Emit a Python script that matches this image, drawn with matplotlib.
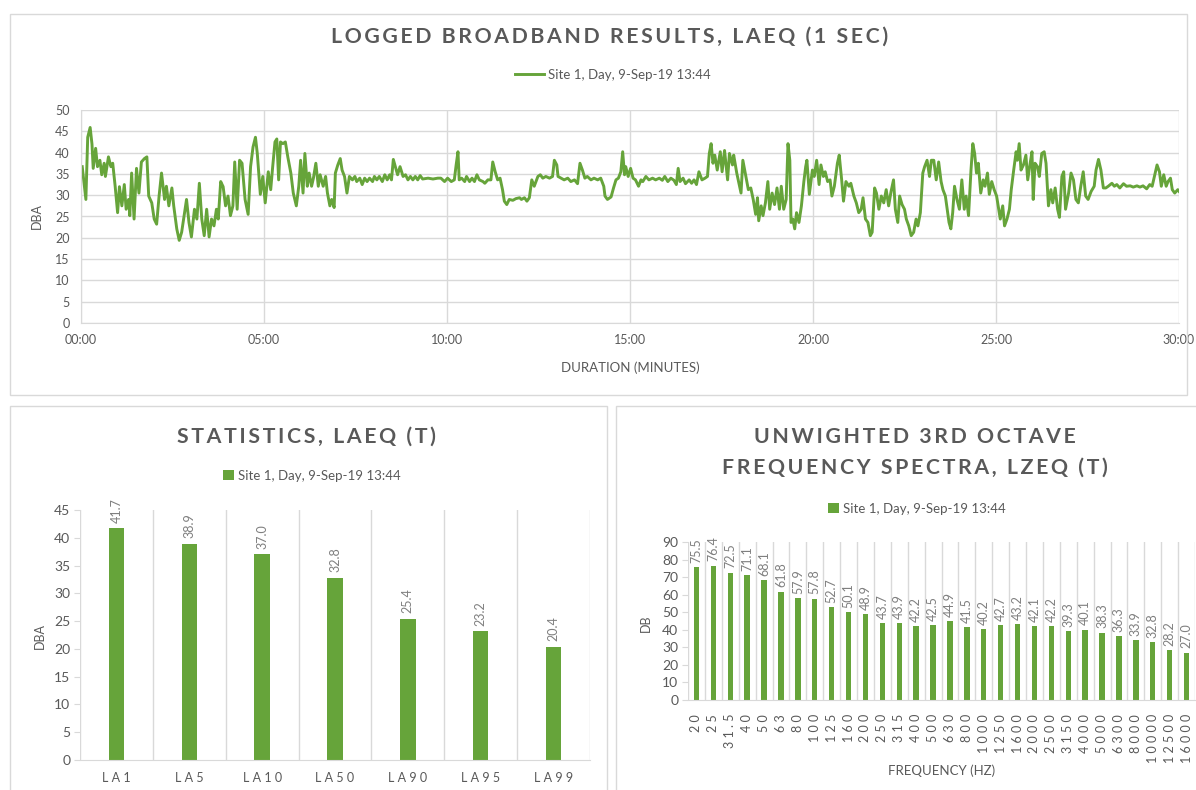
import numpy as np
import matplotlib
matplotlib.use("Agg")
import matplotlib.pyplot as plt
from matplotlib.patches import Rectangle
from matplotlib.ticker import FuncFormatter

# ---- data ----
legend_name = "Site 1, Day, 9-Sep-19 13:44"

# logged LAeq (1 sec), time in seconds, read in 5-minute pieces
t_00_05 = [2, 8, 11, 15, 18, 20, 24, 27, 31, 34, 38, 40, 45, 49, 52, 56, 60, 63, 67, 71, 74, 78, 80, 83, 87,
           91, 95, 99, 104, 108, 111, 116, 120, 124, 128, 132, 137, 140, 144, 149, 152, 157, 161, 165, 169,
           173, 177, 181, 186, 190, 194, 198, 202, 206, 210, 214, 218, 222, 225, 229, 233, 237, 241, 245,
           249, 252, 256, 260, 264, 269, 274, 278, 282, 286, 289]
db_00_05 = [36.7, 29.0, 43.6, 45.9, 42.0, 36.3, 41.0, 36.7, 38.2, 34.8, 37.5, 34.4, 39.0, 36.7, 37.5, 32.1,
            25.9, 32.0, 27.5, 32.5, 26.7, 29.0, 25.2, 35.2, 24.4, 36.3, 30.5, 37.8, 38.6, 39.0, 29.8, 28.2,
            24.4, 23.2, 29.8, 35.2, 29.0, 32.1, 27.5, 31.7, 27.5, 22.1, 19.4, 21.3, 25.2, 29.0, 23.6, 20.2,
            26.7, 24.4, 32.8, 24.4, 20.5, 26.7, 20.2, 24.4, 22.8, 26.7, 24.4, 33.2, 32.0, 27.5, 29.8, 25.2,
            27.5, 37.8, 26.7, 38.2, 37.5, 29.0, 25.5, 36.7, 41.3, 43.6, 39.8]

t_05_10 = [294, 298, 302, 307, 311, 314, 318, 321, 324, 327, 331, 335, 339, 344, 348, 353, 357, 360, 364,
           367, 371, 374, 378, 381, 385, 389, 392, 397, 401, 404, 408, 411, 415, 417, 421, 425, 428, 432,
           436, 440, 445, 449, 452, 457, 461, 465, 469, 473, 478, 481, 485, 489, 494, 498, 502, 506, 509,
           512, 516, 519, 523, 528, 532, 536, 540, 544, 548, 552, 556, 560, 569, 577, 585]
db_05_10 = [30.2, 34.4, 28.2, 35.5, 31.3, 36.3, 42.5, 43.2, 33.6, 42.5, 42.1, 42.5, 39.0, 35.2, 30.5, 27.5,
            32.1, 38.2, 30.5, 39.8, 32.1, 35.2, 32.1, 34.0, 37.5, 32.1, 34.8, 32.1, 34.4, 30.5, 27.5, 29.0,
            27.1, 35.2, 37.1, 38.6, 35.9, 34.4, 30.5, 34.4, 33.6, 34.4, 33.2, 34.0, 32.5, 34.0, 33.2, 34.0,
            33.2, 34.4, 33.6, 34.4, 33.2, 34.8, 33.6, 34.8, 33.6, 38.4, 36.3, 34.8, 36.7, 34.4, 34.8, 33.6,
            34.4, 33.6, 34.4, 33.6, 34.6, 33.8, 34.0, 33.8, 34.0]

t_10_15 = [590, 596, 601, 607, 612, 615, 618, 620, 624, 629, 632, 637, 641, 645, 649, 653, 659, 662, 667,
           672, 675, 679, 683, 687, 691, 694, 698, 702, 708, 713, 719, 722, 727, 731, 735, 739, 743, 749,
           753, 757, 762, 768, 773, 776, 780, 782, 787, 792, 798, 803, 809, 814, 818, 822, 826, 830, 836,
           841, 847, 852, 857, 859, 863, 869, 873, 877, 881, 885, 888, 891]
db_10_15 = [34.0, 33.2, 34.0, 33.2, 33.6, 37.1, 40.2, 33.6, 34.0, 33.2, 34.4, 33.2, 34.0, 33.2, 34.8, 33.6,
            33.2, 32.8, 33.6, 33.6, 37.8, 35.5, 33.6, 34.0, 31.3, 28.6, 27.8, 29.0, 28.8, 29.2, 29.4, 29.0,
            29.4, 28.6, 29.4, 33.6, 32.1, 34.4, 34.8, 34.0, 34.4, 34.0, 34.4, 38.2, 37.1, 34.4, 34.0, 33.6,
            34.0, 33.2, 33.6, 32.7, 37.5, 35.9, 34.0, 34.4, 33.6, 34.0, 33.6, 34.0, 32.1, 29.8, 29.0, 29.6,
            31.7, 33.6, 34.0, 35.5, 40.2, 34.8]

t_15_20 = [893, 897, 901, 905, 909, 914, 918, 921, 926, 931, 937, 942, 948, 953, 957, 962, 967, 972, 976,
           979, 982, 987, 991, 997, 1001, 1005, 1009, 1013, 1018, 1023, 1027, 1030, 1033, 1036, 1039, 1043,
           1048, 1051, 1055, 1060, 1063, 1068, 1070, 1075, 1079, 1082, 1085, 1090, 1094, 1098, 1102, 1106,
           1109, 1111, 1115, 1118, 1122, 1126, 1129, 1133, 1137, 1141, 1145, 1148, 1152, 1156, 1159, 1162,
           1164, 1167, 1170, 1173, 1177, 1181, 1185, 1188, 1190, 1194]
db_15_20 = [36.7, 34.4, 36.3, 34.0, 33.6, 32.1, 33.6, 33.2, 34.4, 33.6, 34.0, 33.6, 34.0, 33.5, 34.4, 33.2,
            34.0, 33.5, 32.5, 36.3, 33.2, 34.0, 32.7, 33.6, 32.8, 33.6, 32.5, 35.5, 33.6, 34.0, 34.4, 39.8,
            42.1, 37.5, 39.4, 35.9, 40.2, 35.5, 40.5, 33.6, 39.8, 37.1, 39.4, 35.2, 32.5, 30.5, 38.2, 34.4,
            31.3, 31.7, 29.0, 25.5, 29.4, 24.0, 27.5, 25.2, 28.2, 33.2, 26.7, 30.5, 27.8, 31.7, 26.7, 32.1,
            26.7, 29.0, 42.1, 38.2, 23.6, 24.4, 22.1, 25.9, 23.6, 27.5, 33.2, 36.7, 38.2, 30.2]

t_20_25 = [1199, 1202, 1206, 1210, 1213, 1217, 1220, 1224, 1228, 1231, 1235, 1240, 1243, 1247, 1250, 1254,
           1259, 1262, 1267, 1271, 1275, 1279, 1282, 1286, 1290, 1294, 1297, 1301, 1304, 1308, 1312, 1316,
           1320, 1324, 1328, 1332, 1335, 1339, 1342, 1346, 1350, 1353, 1357, 1361, 1365, 1369, 1372, 1376,
           1380, 1383, 1387, 1391, 1394, 1398, 1402, 1406, 1410, 1413, 1417, 1420, 1423, 1426, 1429, 1432,
           1436, 1440, 1444, 1448, 1451, 1455, 1459, 1462, 1465, 1468, 1471, 1475, 1479, 1482, 1486, 1489,
           1493, 1497]
db_20_25 = [35.9, 34.4, 38.2, 32.5, 37.1, 34.4, 35.5, 33.2, 33.6, 29.8, 32.1, 37.5, 39.4, 33.6, 28.6, 33.2,
            32.1, 32.8, 29.8, 28.2, 25.9, 26.7, 29.4, 24.4, 23.6, 20.5, 21.3, 31.7, 30.5, 26.7, 29.8, 28.2,
            31.3, 27.5, 30.9, 33.6, 26.7, 23.6, 29.8, 27.8, 26.7, 24.4, 22.8, 20.5, 21.3, 24.4, 22.8, 25.9,
            35.2, 36.7, 38.2, 34.4, 38.2, 38.2, 33.6, 37.8, 33.2, 31.3, 29.8, 26.7, 23.6, 22.1, 25.9, 32.1,
            29.0, 26.7, 33.6, 26.7, 29.8, 25.2, 35.9, 42.1, 39.8, 35.2, 37.5, 30.5, 33.6, 32.1, 35.2, 30.2,
            33.2, 31.3]

t_25_30 = [1501, 1507, 1511, 1514, 1518, 1522, 1525, 1529, 1533, 1535, 1538, 1541, 1545, 1549, 1552, 1556,
           1559, 1561, 1564, 1568, 1571, 1575, 1579, 1582, 1586, 1590, 1593, 1597, 1601, 1604, 1608, 1611,
           1614, 1619, 1623, 1627, 1631, 1635, 1639, 1643, 1647, 1651, 1656, 1661, 1664, 1668, 1672, 1676,
           1680, 1684, 1690, 1694, 1698, 1703, 1709, 1714, 1720, 1725, 1731, 1736, 1741, 1747, 1752, 1756,
           1761, 1764, 1768, 1771, 1775, 1779, 1782, 1786, 1789, 1793, 1798, 1800]
db_25_30 = [29.8, 24.4, 27.5, 22.8, 24.4, 26.7, 31.3, 35.9, 40.2, 38.2, 42.1, 35.9, 37.1, 39.4, 33.6, 37.5,
            40.2, 29.0, 37.5, 36.7, 34.4, 39.8, 40.2, 37.5, 27.5, 31.3, 28.2, 31.7, 26.7, 24.8, 34.4, 35.5,
            26.7, 30.5, 35.2, 33.6, 29.0, 28.2, 32.1, 35.5, 29.8, 29.0, 30.9, 32.1, 35.9, 38.4, 35.9, 31.7,
            31.7, 32.1, 32.8, 32.1, 32.5, 31.7, 32.7, 32.1, 32.2, 31.9, 32.2, 31.9, 32.2, 31.5, 32.5, 32.1,
            35.2, 37.1, 35.5, 32.1, 34.8, 32.1, 33.2, 34.0, 31.3, 30.5, 31.3, 30.9]

stats_labels = ["LA1", "LA5", "LA10", "LA50", "LA90", "LA95", "LA99"]
stats_values = [41.7, 38.9, 37.0, 32.8, 25.4, 23.2, 20.4]

freq_labels = ["20", "25", "31.5", "40", "50", "63", "80", "100", "125", "160", "200", "250", "315", "400",
               "500", "630", "800", "1000", "1250", "1600", "2000", "2500", "3150", "4000", "5000", "6300",
               "8000", "10000", "12500", "16000"]
spectrum = [75.5, 76.4, 72.5, 71.1, 68.1, 61.8, 57.9, 57.8, 52.7, 50.1, 48.9, 43.7, 43.9, 42.2, 42.5, 44.9,
            41.5, 40.2, 42.7, 43.2, 42.1, 42.2, 39.3, 40.1, 38.3, 36.3, 33.9, 32.8, 28.2, 27.0]

t_sec = t_00_05 + t_05_10 + t_10_15 + t_15_20 + t_20_25 + t_25_30
laeq = db_00_05 + db_05_10 + db_10_15 + db_15_20 + db_20_25 + db_25_30

# ---- style ----
W, H = 1196, 790
green = "#66A43A"
txt = "#595959"
grid = "#D9D9D9"
plt.rcParams["font.family"] = ["Lato", "DejaVu Sans"]


def box(l, t, r, b):
    return [l / W, 1 - b / H, (r - l) / W, (b - t) / H]


def spaced(s, gap="\u2009"):
    # letter spacing like the excel chart text
    return "  ".join(gap.join(w) for w in s.split(" "))


def title(x, y, s):
    fig.text(x / W, 1 - y / H, spaced(s, "\u2009"), ha="center", va="center",
             fontsize=15.3, fontweight="bold", color=txt)


fig = plt.figure(figsize=(W / 100, H / 100), dpi=100)
for (l, t, r, b) in [(10, 14, 1187, 395), (10, 406, 607, 800), (616, 406, 1205, 800)]:
    fig.patches.append(Rectangle((l / W, 1 - b / H), (r - l) / W, (b - t) / H, transform=fig.transFigure,
                                 fill=False, edgecolor=grid, lw=1.0))


def style_axes(ax):
    for s in ["top", "right"]:
        ax.spines[s].set_visible(False)
    for s in ["left", "bottom"]:
        ax.spines[s].set_color(grid)
    ax.set_axisbelow(True)


# ---- top: logged broadband ----
ax1 = fig.add_axes(box(81, 110, 1179, 323))
ax1.plot(t_sec, laeq, color=green, lw=2.1, label=legend_name)
ax1.set_xlim(0, 1800)
ax1.set_ylim(0, 50)
ax1.set_xticks(range(0, 1801, 300))
ax1.set_yticks(range(0, 51, 5))
ax1.xaxis.set_major_formatter(FuncFormatter(lambda v, p: "%02d:%02d" % (v // 60, v % 60)))
ax1.grid(True, color=grid, lw=1.0)
style_axes(ax1)
ax1.tick_params(length=0, labelsize=9, labelcolor=txt, pad=8)
ax1.set_xlabel("DURATION (MINUTES)", fontsize=9.5, color=txt, labelpad=11)
fig.text(37 / W, 1 - 216 / H, "DBA", rotation=90, ha="center", va="center", fontsize=9, color=txt)
title(610, 37, "LOGGED BROADBAND RESULTS, LAEQ (1 SEC)")
ax1.legend(loc="center", bbox_to_anchor=(613 / W, 1 - 75 / H), bbox_transform=fig.transFigure,
           frameon=False, fontsize=9.5, labelcolor=txt, handlelength=2.2, handletextpad=0.3)

# ---- bottom left: statistics ----
ax2 = fig.add_axes(box(80, 510, 590, 760))
x2 = np.arange(len(stats_labels))
bars = ax2.bar(x2, stats_values, width=0.21, color=green, label=legend_name)
for xi, v in zip(x2, stats_values):
    ax2.text(xi, v + 1.0, "%.1f" % v, rotation=90, ha="center", va="bottom", fontsize=9, color="#7F7F7F")
ax2.set_xlim(-0.5, len(stats_labels) - 0.5)
ax2.set_ylim(0, 45)
ax2.set_yticks(range(0, 46, 5))
ax2.set_xticks(x2)
ax2.set_xticklabels([spaced(s, " ") for s in stats_labels])
for b in np.arange(-0.5, len(stats_labels), 1.0):
    ax2.axvline(b, color=grid, lw=1.0, zorder=0)
style_axes(ax2)
ax2.spines["left"].set_visible(False)
ax2.tick_params(axis="x", length=0, labelsize=9, labelcolor=txt, pad=9)
ax2.tick_params(axis="y", length=4, color=grid, labelsize=10, labelcolor=txt, pad=3)
fig.text(40 / W, 1 - 636 / H, "DBA", rotation=90, ha="center", va="center", fontsize=9, color=txt)
title(306, 437, "STATISTICS, LAEQ (T)")
ax2.legend(loc="center", bbox_to_anchor=(312 / W, 1 - 476 / H), bbox_transform=fig.transFigure,
           frameon=False, fontsize=9.5, labelcolor=txt, handlelength=0.8, handleheight=0.8,
           handletextpad=0.3)

# ---- bottom right: 3rd octave spectrum ----
ax3 = fig.add_axes(box(688, 542, 1195, 700))
x3 = np.arange(len(freq_labels))
ax3.bar(x3, spectrum, width=0.32, color=green, label=legend_name)
for xi, v in zip(x3, spectrum):
    ax3.text(xi, v + 2.5, "%.1f" % v, rotation=90, ha="center", va="bottom", fontsize=9, color="#7F7F7F")
ax3.set_xlim(-0.5, len(freq_labels) - 0.5)
ax3.set_ylim(0, 90)
ax3.set_yticks(range(0, 91, 10))
ax3.set_xticks(x3)
ax3.set_xticklabels([spaced(s, " ") for s in freq_labels], rotation=90, va="top")
for b in np.arange(-0.5, len(freq_labels), 1.0):
    ax3.axvline(b, color=grid, lw=1.0, zorder=0)
style_axes(ax3)
ax3.spines["left"].set_visible(False)
ax3.tick_params(axis="x", length=0, labelsize=9, labelcolor=txt, pad=10)
ax3.tick_params(axis="y", length=4, color=grid, labelsize=10, labelcolor=txt, pad=3)
ax3.set_xlabel("FREQUENCY (HZ)", fontsize=9.5, color=txt, labelpad=1)
fig.text(646 / W, 1 - 623 / H, "DB", rotation=90, ha="center", va="center", fontsize=9, color=txt)
title(915, 437, "UNWIGHTED 3RD OCTAVE")
title(915, 468, "FREQUENCY SPECTRA, LZEQ (T)")
ax3.legend(loc="center", bbox_to_anchor=(917 / W, 1 - 509 / H), bbox_transform=fig.transFigure,
           frameon=False, fontsize=9.5, labelcolor=txt, handlelength=0.8, handleheight=0.8,
           handletextpad=0.3)

fig.savefig("out.png", dpi=100)
